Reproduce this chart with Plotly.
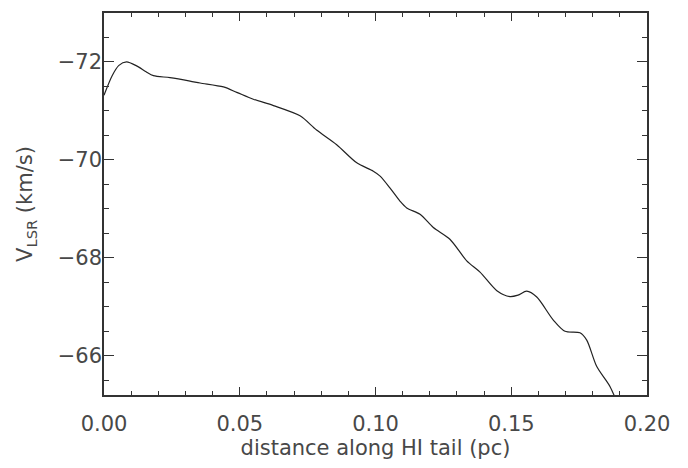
import plotly.graph_objects as go

distance_pc = [0.0, 0.003, 0.0055, 0.0083, 0.012, 0.0155, 0.0182, 0.0243, 0.0317, 0.0354, 0.044,
               0.0489, 0.055, 0.0624, 0.0722, 0.0783, 0.0857, 0.0931, 0.0992, 0.1017,
               0.1053, 0.109, 0.1115, 0.1164, 0.1213, 0.1274, 0.1336, 0.1385, 0.1447,
               0.1495, 0.1525, 0.1557, 0.1594, 0.1655, 0.1698, 0.1753, 0.1778, 0.1815,
               0.1864, 0.19]
v_lsr = [-71.32, -71.72, -71.93, -72.0, -71.92, -71.8, -71.72, -71.68, -71.61, -71.57, -71.49,
         -71.38, -71.24, -71.11, -70.9, -70.61, -70.31, -69.94, -69.77, -69.67,
         -69.43, -69.16, -69.02, -68.89, -68.62, -68.38, -67.94, -67.71, -67.33,
         -67.21, -67.24, -67.32, -67.2, -66.73, -66.5, -66.47, -66.32, -65.78,
         -65.37, -64.9]

x_ticks = [0.0, 0.05, 0.10, 0.15, 0.20]
x_tick_labels = ["0.00", "0.05", "0.10", "0.15", "0.20"]
y_ticks = [-72, -70, -68, -66]

ink = "#333333"
fnt = dict(family="DejaVu Sans", size=21, color="#484848")

fig = go.Figure()
fig.add_trace(go.Scatter(x=distance_pc, y=v_lsr, mode="lines",
                         line=dict(color="#222222", width=1.2, shape="spline", smoothing=0.8),
                         showlegend=False))

fig.update_layout(
    width=688, height=468,
    margin=dict(l=96, r=49, t=3, b=81),
    paper_bgcolor="white", plot_bgcolor="white",
    font=fnt,
    xaxis=dict(range=[0, 0.2], tickvals=x_ticks, ticktext=x_tick_labels,
               ticks="inside", ticklen=8, tickwidth=1.2, tickcolor=ink,
               minor=dict(dtick=0.01, ticks="inside", ticklen=4, tickwidth=1, tickcolor=ink),
               showline=True, linecolor=ink, linewidth=1.5, mirror="ticks",
               showgrid=False, zeroline=False, ticklabelstandoff=9,
               title=dict(text="distance along HI tail (pc)", font=fnt, standoff=3)),
    yaxis=dict(range=[-65.2, -73], tickvals=y_ticks,
               ticks="inside", ticklen=10, tickwidth=1.2, tickcolor=ink,
               minor=dict(dtick=0.5, ticks="inside", ticklen=5, tickwidth=1, tickcolor=ink),
               showline=True, linecolor=ink, linewidth=1.5, mirror="ticks",
               showgrid=False, zeroline=False, ticklabelstandoff=-4,
               title=dict(text="V<sub>LSR</sub> (km/s)", font=fnt, standoff=19)),
)

fig.write_html("out.html")
